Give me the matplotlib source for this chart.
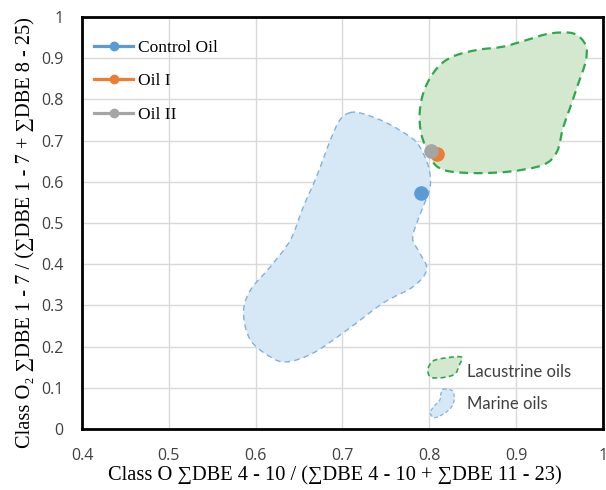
import numpy as np
import matplotlib
matplotlib.use("Agg")
import matplotlib.pyplot as plt
from matplotlib.path import Path
from matplotlib.patches import PathPatch, Patch
from matplotlib.lines import Line2D
from matplotlib.legend_handler import HandlerPatch

# ---- data ----
series_names = ["Control Oil", "Oil I", "Oil II"]
series_x = [0.790, 0.809, 0.802]
series_y = [0.573, 0.667, 0.675]
series_colors = ["#5B9BD5", "#ED7D31", "#A5A5A5"]

marine_x = [0.709, 0.697, 0.686, 0.670, 0.655, 0.640, 0.617, 0.594, 0.586, 0.594,
            0.617, 0.636, 0.666, 0.705, 0.747, 0.781, 0.797, 0.789, 0.781, 0.784,
            0.793, 0.801, 0.799, 0.789, 0.778, 0.751, 0.724]
marine_y = [0.768, 0.750, 0.701, 0.612, 0.540, 0.459, 0.394, 0.337, 0.282, 0.216,
            0.175, 0.163, 0.184, 0.240, 0.306, 0.345, 0.386, 0.427, 0.459, 0.491,
            0.540, 0.588, 0.637, 0.685, 0.709, 0.743, 0.765]

lacus_x = [0.801, 0.791, 0.789, 0.795, 0.809, 0.827, 0.855, 0.885, 0.912, 0.939,
           0.966, 0.980, 0.980, 0.971, 0.962, 0.954, 0.947, 0.931, 0.893, 0.855,
           0.824, 0.809]
lacus_y = [0.661, 0.714, 0.770, 0.827, 0.876, 0.904, 0.920, 0.928, 0.944, 0.960,
           0.960, 0.932, 0.892, 0.835, 0.779, 0.731, 0.673, 0.641, 0.625, 0.621,
           0.625, 0.637]

region_names = ["Lacustrine oils", "Marine oils"]

x_ticks = [0.4, 0.5, 0.6, 0.7, 0.8, 0.9, 1.0]
x_ticklabels = ["0.4", "0.5", "0.6", "0.7", "0.8", "0.9", "1"]
y_ticks = [0, 0.1, 0.2, 0.3, 0.4, 0.5, 0.6, 0.7, 0.8, 0.9, 1.0]
y_ticklabels = ["0", "0.1", "0.2", "0.3", "0.4", "0.5", "0.6", "0.7", "0.8", "0.9", "1"]

xlabel = "Class O \u2211DBE 4 - 10 / (\u2211DBE 4 - 10 + \u2211DBE 11 - 23)"
ylabel = "Class O\u2082 \u2211DBE 1 - 7 / (\u2211DBE 1 - 7 + \u2211DBE 8 - 25)"


def smooth_closed_path(xs, ys):
    P = np.column_stack([xs, ys]).astype(float)
    n = len(P)
    verts = [P[0]]
    codes = [Path.MOVETO]
    for i in range(n):
        p0 = P[(i - 1) % n]
        p1 = P[i]
        p2 = P[(i + 1) % n]
        p3 = P[(i + 2) % n]
        c1 = p1 + (p2 - p0) / 6.0
        c2 = p2 - (p3 - p1) / 6.0
        verts += [c1, c2, p2]
        codes += [Path.CURVE4] * 3
    verts.append(P[0])
    codes.append(Path.CLOSEPOLY)
    return Path(np.array(verts), codes)


serif = ["Liberation Serif", "DejaVu Serif"]
sans = ["Open Sans", "DejaVu Sans"]
sans2 = ["Lato", "DejaVu Sans"]

fig = plt.figure(figsize=(6.06, 4.90), dpi=100)
ax = fig.add_axes([0.1353, 0.1245, 0.8597, 0.8408])

marine_fc, marine_ec = "#D6E7F6", "#7FB2DA"
lacus_fc, lacus_ec = "#D4E8CF", "#2DA84C"

ax.add_patch(PathPatch(smooth_closed_path(marine_x, marine_y), facecolor=marine_fc,
                       edgecolor=marine_ec, linestyle=(0, (4, 3)), linewidth=1.0, zorder=2))
ax.add_patch(PathPatch(smooth_closed_path(lacus_x, lacus_y), facecolor=lacus_fc,
                       edgecolor=lacus_ec, linestyle=(0, (4, 2.5)), linewidth=1.6, zorder=2))

for name, x, y, c in zip(series_names, series_x, series_y, series_colors):
    ax.plot([x], [y], "o", color=c, markersize=9.5, zorder=4, label=name)

ax.set_xlim(0.4, 1.0)
ax.set_ylim(0, 1.0)
ax.set_xticks(x_ticks)
ax.set_xticklabels(x_ticklabels)
ax.set_yticks(y_ticks)
ax.set_yticklabels(y_ticklabels)
ax.tick_params(axis="both", length=0, labelsize=11.5, colors="#404040", pad=13.5)
for lab in ax.get_xticklabels() + ax.get_yticklabels():
    lab.set_family(sans)
ax.grid(True, color="#D9D9D9", linewidth=1.0, zorder=0)
ax.set_axisbelow(True)
for s in ax.spines.values():
    s.set_linewidth(2.0)
    s.set_color("black")

xl = ax.set_xlabel(xlabel, family=serif, fontsize=14.7)
yl = ax.set_ylabel(ylabel, family=serif, fontsize=14.7)
xl.set_va("center")
yl.set_va("center")
ax.xaxis.set_label_coords(0.486, -0.113)
ax.yaxis.set_label_coords(-0.108, 0.478)

# legend 1: series
handles1 = [Line2D([0], [0], color=c, marker="o", markersize=6, linewidth=2.3)
            for c in series_colors]
leg1 = ax.legend(handles1, series_names, loc="upper left", frameon=False,
                 prop={"family": serif, "size": 12.5}, handlelength=2.25,
                 handletextpad=0.3, labelspacing=1.0, borderaxespad=0.3,
                 bbox_to_anchor=(0.0, 0.975))
ax.add_artist(leg1)

# legend 2: regions with blob glyphs (shape in fractions of the handle box)
lac_blob_x = [0.0, 0.15, 0.55, 1.0, 0.92, 0.8, 0.45, 0.1, 0.0]
lac_blob_y = [0.65, 1.0, 1.15, 1.18, 0.75, 0.35, 0.18, 0.18, 0.4]
mar_blob_x = [0.45, 0.72, 0.78, 0.7, 0.5, 0.2, 0.06, 0.16, 0.35, 0.38]
mar_blob_y = [1.22, 1.15, 0.75, 0.35, 0.05, -0.18, 0.05, 0.35, 0.7, 1.0]


class BlobHandler(HandlerPatch):
    def __init__(self, bx, by, **kw):
        super().__init__(**kw)
        self.bx, self.by = bx, by

    def create_artists(self, legend, orig_handle, xdescent, ydescent, width,
                       height, fontsize, trans):
        xs = np.array(self.bx) * width - xdescent
        ys = np.array(self.by) * height - ydescent
        p = PathPatch(smooth_closed_path(xs, ys), facecolor=orig_handle.get_facecolor(),
                      edgecolor=orig_handle.get_edgecolor(),
                      linestyle=orig_handle.get_linestyle(),
                      linewidth=orig_handle.get_linewidth(), transform=trans)
        return [p]


h_lac = Patch(facecolor=lacus_fc, edgecolor=lacus_ec, linestyle=(0, (3, 2)), linewidth=1.2)
h_mar = Patch(facecolor=marine_fc, edgecolor=marine_ec, linestyle=(0, (3, 2)), linewidth=0.9)
leg2 = ax.legend([h_lac, h_mar], region_names, loc="lower right", frameon=False,
                 prop={"family": sans2, "size": 12}, handlelength=2.0,
                 handleheight=1.5, handletextpad=0.35, labelspacing=0.75,
                 borderaxespad=0.3, bbox_to_anchor=(0.962, 0.008),
                 handler_map={h_lac: BlobHandler(lac_blob_x, lac_blob_y),
                              h_mar: BlobHandler(mar_blob_x, mar_blob_y)})
for t in leg2.get_texts():
    t.set_color("#404040")

fig.savefig("out.png", dpi=100)
